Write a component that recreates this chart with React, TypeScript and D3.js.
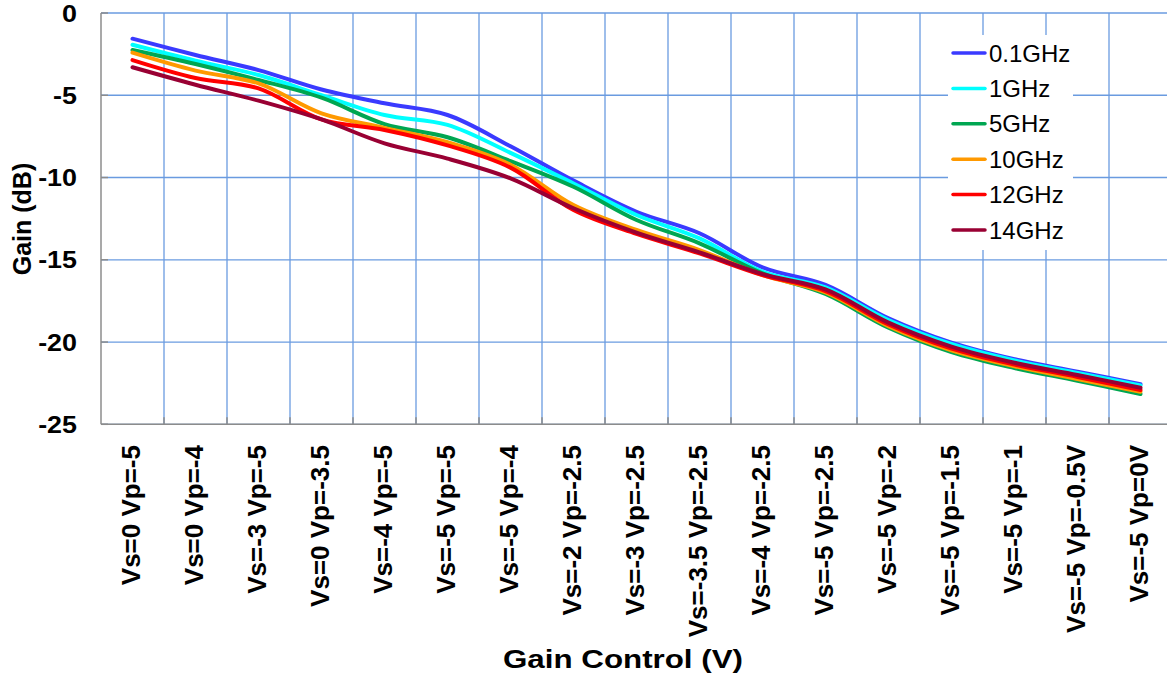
import { curveCatmullRom, line as d3Line, scaleBand, scaleLinear } from "d3";

const categories = [
  "Vs=0 Vp=-5",
  "Vs=0 Vp=-4",
  "Vs=-3 Vp=-5",
  "Vs=0 Vp=-3.5",
  "Vs=-4 Vp=-5",
  "Vs=-5 Vp=-5",
  "Vs=-5 Vp=-4",
  "Vs=-2 Vp=-2.5",
  "Vs=-3 Vp=-2.5",
  "Vs=-3.5 Vp=-2.5",
  "Vs=-4 Vp=-2.5",
  "Vs=-5 Vp=-2.5",
  "Vs=-5 Vp=-2",
  "Vs=-5 Vp=-1.5",
  "Vs=-5 Vp=-1",
  "Vs=-5 Vp=-0.5V",
  "Vs=-5 Vp=0V"
];

const gain01GHz = [-1.56, -2.55, -3.47, -4.65, -5.49, -6.2, -8.1, -10.19, -12.08, -13.39, -15.46, -16.53, -18.56, -20.04, -21.05, -21.8, -22.57];
const gain1GHz = [-1.93, -2.9, -3.77, -5.0, -6.2, -6.8, -8.5, -10.36, -12.28, -13.7, -15.72, -16.68, -18.66, -20.12, -21.12, -21.88, -22.64];
const gain5GHz = [-2.25, -3.1, -4.07, -5.15, -6.75, -7.55, -9.0, -10.56, -12.58, -14.0, -15.83, -17.08, -19.13, -20.61, -21.58, -22.35, -23.16];
const gain10GHz = [-2.41, -3.5, -4.28, -6.1, -6.98, -7.85, -9.22, -11.67, -13.19, -14.41, -15.93, -16.98, -19.03, -20.5, -21.47, -22.25, -23.02];
const gain12GHz = [-2.86, -3.95, -4.58, -6.47, -7.11, -8.05, -9.4, -11.98, -13.43, -14.61, -15.93, -16.9, -18.93, -20.4, -21.37, -22.12, -22.92];
const gain14GHz = [-3.3, -4.36, -5.33, -6.47, -7.92, -8.85, -10.05, -11.87, -13.35, -14.55, -15.87, -16.8, -18.82, -20.28, -21.26, -22.0, -22.78];

const seriesNames = ["0.1GHz", "1GHz", "5GHz", "10GHz", "12GHz", "14GHz"];
const seriesColors = ["#3a3aff", "#00ffff", "#00a651", "#ff9900", "#ff0000", "#990033"];
const seriesValues = [gain01GHz, gain1GHz, gain5GHz, gain10GHz, gain12GHz, gain14GHz];

const yTicks = [0, -5, -10, -15, -20, -25];

const width = 1167;
const height = 679;
const plot = { left: 101, top: 13, bottom: 424.3, band: 63 };
const font = "'Liberation Sans', Arial, Helvetica, sans-serif";
const gridColor = "#6a9be0";
const axisColor = "#8c8c8c";

export default function App() {
  const x = scaleBand<string>()
    .domain(categories)
    .range([plot.left, plot.left + plot.band * categories.length])
    .padding(0);
  const y = scaleLinear().domain([-25, 0]).range([plot.bottom, plot.top]);
  const right = plot.left + plot.band * categories.length;
  const cx = (c: string) => (x(c) ?? 0) + x.bandwidth() / 2;

  const line = d3Line<number>()
    .x((_, i) => cx(categories[i]))
    .y((d) => y(d))
    .curve(curveCatmullRom.alpha(0.5));

  const legend = { x: 948, y: 35, w: 125, h: 215, rowY: 53, rowStep: 35.4 };

  return (
    <div style={{ position: "absolute", left: 0, top: 0, width, height, background: "#fff" }}>
      <svg width={width} height={height} style={{ display: "block", fontFamily: font }}>
        <rect width={width} height={height} fill="#fff" />

        {/* grid */}
        {yTicks.map((t) => (
          <line key={`h${t}`} x1={plot.left} x2={right} y1={y(t)} y2={y(t)} stroke={gridColor} strokeWidth={1.3} />
        ))}
        {categories.map((c) => {
          const gx = (x(c) ?? 0) + x.bandwidth();
          return <line key={`v${c}`} x1={gx} x2={gx} y1={plot.top} y2={plot.bottom} stroke={gridColor} strokeWidth={1.3} />;
        })}

        {/* axes */}
        <line x1={plot.left} x2={plot.left} y1={plot.top} y2={plot.bottom} stroke={axisColor} strokeWidth={1.5} />
        <line x1={plot.left} x2={right} y1={plot.bottom} y2={plot.bottom} stroke={axisColor} strokeWidth={1.5} />
        {yTicks.map((t) => (
          <line key={`yt${t}`} x1={plot.left} x2={plot.left + 7} y1={y(t)} y2={y(t)} stroke={axisColor} strokeWidth={1.5} />
        ))}
        {categories.map((c) => {
          const gx = (x(c) ?? 0) + x.bandwidth();
          return <line key={`xt${c}`} x1={gx} x2={gx} y1={plot.bottom - 7} y2={plot.bottom} stroke={axisColor} strokeWidth={1.5} />;
        })}

        {yTicks.map((t) => (
          <text
            key={`yl${t}`}
            transform={`translate(77, ${y(t)}) scale(1.12, 1)`}
            dy="0.36em"
            textAnchor="end"
            fontSize={24}
            fontWeight="bold"
            fill="#000"
          >
            {t}
          </text>
        ))}

        {categories.map((c) => (
          <text
            key={`xl${c}`}
            transform={`translate(${cx(c) + 7.5}, 445) rotate(-90)`}
            textAnchor="end"
            fontSize={26}
            fontWeight="bold"
            fill="#000"
          >
            {c}
          </text>
        ))}

        <text transform="translate(31, 219) rotate(-90)" textAnchor="middle" fontSize={25} fontWeight="bold" fill="#000">
          Gain (dB)
        </text>
        <text x={623} y={668} textAnchor="middle" fontSize={26} fontWeight="bold" fill="#000" textLength={240} lengthAdjust="spacingAndGlyphs">
          Gain Control (V)
        </text>

        {/* series */}
        {seriesValues.map((vals, i) => (
          <path
            key={seriesNames[i]}
            d={line(vals) ?? undefined}
            fill="none"
            stroke={seriesColors[i]}
            strokeWidth={4}
            strokeLinejoin="round"
            strokeLinecap="round"
          />
        ))}

        {/* legend */}
        <rect x={legend.x} y={legend.y} width={legend.w} height={legend.h} fill="#fff" />
        {seriesNames.map((name, i) => {
          const ly = legend.rowY + i * legend.rowStep;
          return (
            <g key={`lg${name}`}>
              <line x1={953} x2={985} y1={ly} y2={ly} stroke={seriesColors[i]} strokeWidth={3.5} strokeLinecap="round" />
              <text x={989} y={ly} dy="0.36em" fontSize={24} fill="#000">
                {name}
              </text>
            </g>
          );
        })}
      </svg>
    </div>
  );
}
